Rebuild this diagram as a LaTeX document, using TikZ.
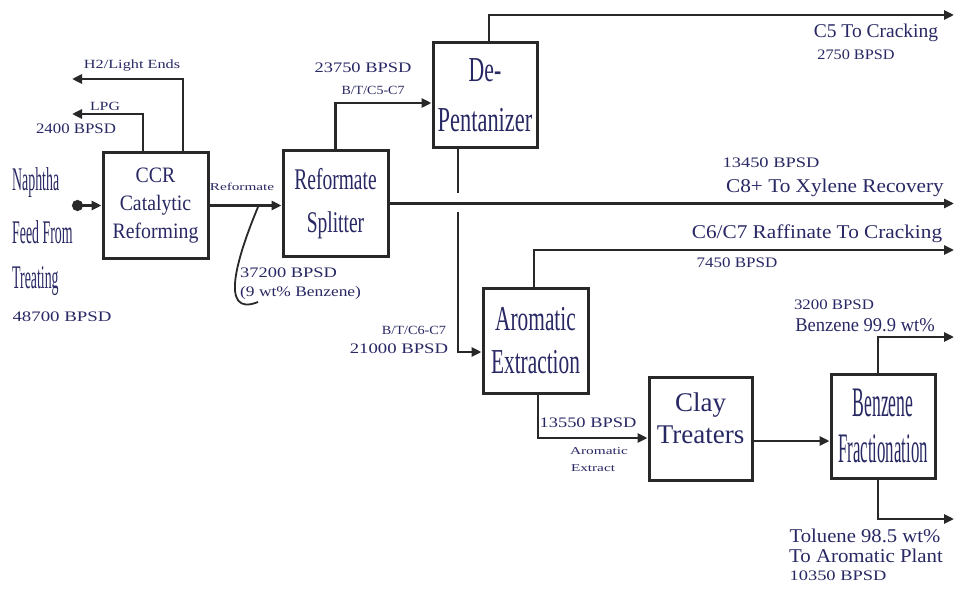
\documentclass[tikz,border=0pt]{standalone}
\usepackage{fontspec}
\setmainfont{Liberation Serif}
\usetikzlibrary{arrows.meta}
\definecolor{ink}{RGB}{40,40,100}
\definecolor{wire}{RGB}{40,40,40}
\newcommand{\sq}[2]{\scalebox{#1}[1]{#2}}
\newcommand{\fs}[2]{\fontsize{#1}{#2}\selectfont}
\begin{document}
\begin{tikzpicture}[x=1pt,y=-1pt,
  box/.style={draw=wire, line width=3pt, fill=white, inner sep=0pt, text=ink, align=center},
  flow/.style={draw=wire, line width=2.6pt, -{Triangle[length=10pt,width=9pt]}},
  pipe/.style={draw=wire, line width=2.6pt},
  lab/.style={text=ink, inner sep=0pt},
  big/.style={lab, font=\fs{19.5}{22}},
  mid/.style={lab, font=\fs{14.5}{16}},
  small/.style={lab, font=\fs{10.5}{12}},
  smallb/.style={lab, font=\fs{12.5}{14}},
  feedtxt/.style={lab, font=\fs{33}{36}, anchor=base west},
]
\useasboundingbox[fill=white] (0,0) rectangle (956,591);

% boxes
\node[box, minimum width=105pt, minimum height=105pt, font=\fs{22}{28}] (ccr) at (155.5,205.5)
  {\sq{0.9}{CCR}\\\sq{0.9}{Catalytic}\\\sq{0.9}{Reforming}};
\node[box, minimum width=105pt, minimum height=105pt, font=\fs{30}{43}] (rs) at (335.5,203.5)
  {\sq{0.65}{Reformate}\\\sq{0.65}{Splitter}};
\node[box, minimum width=104pt, minimum height=105pt, font=\fs{35}{50}] (dp) at (485,95.5)
  {\sq{0.62}{De-}\\\sq{0.64}{Pentanizer}};
\node[box, minimum width=105pt, minimum height=105pt, font=\fs{35}{43}] (ae) at (535.5,340.5)
  {\sq{0.61}{Aromatic}\\\sq{0.61}{Extraction}};
\node[box, minimum width=103pt, minimum height=103pt, font=\fs{27}{32}] (ct) at (700.5,428.5)
  {\raisebox{7pt}[\height][\depth]{\begin{tabular}{@{}c@{}}Clay\\Treaters\end{tabular}}};
\node[box, minimum width=104pt, minimum height=104pt, font=\fs{42}{46}] (bf) at (883,426)
  {\sq{0.42}{Benzene}\\\sq{0.4}{Fractionation}};

% free ends
\coordinate (feed) at (72,205.5);
\coordinate (lpg) at (72,114);
\coordinate (h2) at (72,79);
\coordinate (c5) at (954,15);
\coordinate (xyl) at (954,203.5);
\coordinate (gapA) at (458,193);
\coordinate (gapB) at (458,212);
\coordinate (raf) at (954,250);
\coordinate (bz) at (954,337);
\coordinate (tol) at (954,519);
\coordinate (hookA) at (258,207);
\coordinate (hookB) at (258,302);

% connectors
\draw[flow, {Circle[length=11pt]}-{Triangle[length=10pt,width=9pt]}] (feed) -- (ccr.west);
\draw[flow] ([xshift=-12.5pt]ccr.north) |- (lpg);
\draw[flow] ([xshift=27.5pt]ccr.north) |- (h2);
\draw[flow] (ccr.east) -- (rs.west |- ccr.east);
\draw[draw=wire, line width=1.8pt] (hookA) .. controls (238,255) and (218,318) .. (hookB);
\draw[flow] (rs.north) |- ([yshift=-7.5pt]dp.west);
\draw[flow] ([xshift=4pt]dp.north) |- (c5);
\draw[flow] (rs.east) -- (xyl);
\draw[pipe] ([xshift=-27pt]dp.south) -- (gapA);
\draw[flow] (gapB) |- ([yshift=-11.5pt]ae.west);
\draw[flow] ([xshift=-1.5pt]ae.north) |- (raf);
\draw[flow] ([xshift=2.5pt]ae.south) |- ([yshift=-9.5pt]ct.west);
\draw[flow] ([yshift=-12.5pt]ct.east) -- ([yshift=-12.5pt]ct.east -| bf.west);
\draw[flow] ([xshift=-5pt]bf.north) |- (bz);
\draw[flow] ([xshift=-5pt]bf.south) |- (tol);

% feed text
\node[feedtxt] (t1) at (12,190) {\sq{0.42}{Naphtha}};
\node[feedtxt] (t2) at (12,243) {\sq{0.42}{Feed From}};
\node[feedtxt] (t3) at (12,288) {\sq{0.42}{Treating}};
\node[mid] (t4) at (62,317) {\sq{1.3}{48700 BPSD}};

% labels
\node[smallb] (l1) at (132,66) {\sq{1.3}{H2/Light Ends}};
\node[smallb] (l2) at (105,106) {\sq{1.27}{LPG}};
\node[mid] (l3) at (76,129) {\sq{1.16}{2400 BPSD}};
\node[small] (l4) at (242,187) {\sq{1.45}{Reformate}};
\node[mid, anchor=west] (l5) at (240,273) {\sq{1.27}{37200 BPSD}};
\node[mid, anchor=west] (l6) at (240,293) {\sq{1.2}{(9 wt\% Benzene)}};
\node[mid] (l7) at (363,68) {\sq{1.27}{23750 BPSD}};
\node[smallb] (l8) at (373,90) {\sq{1.12}{B/T/C5-C7}};
\node[big] (l9) at (876,33) {C5 To Cracking};
\node[mid] (l10) at (856,55) {\sq{1.12}{2750 BPSD}};
\node[mid] (l11) at (771,163) {\sq{1.27}{13450 BPSD}};
\node[big] (l12) at (835,188) {\sq{1.09}{C8+ To Xylene Recovery}};
\node[big] (l13) at (817,234) {\sq{1.09}{C6/C7 Raffinate To Cracking}};
\node[mid] (l14) at (737,263) {\sq{1.17}{7450 BPSD}};
\node[smallb] (l15) at (414,330) {\sq{1.14}{B/T/C6-C7}};
\node[mid] (l16) at (399,349) {\sq{1.29}{21000 BPSD}};
\node[mid] (l17) at (588,423) {\sq{1.27}{13550 BPSD}};
\node[small] (l18) at (599,451) {\sq{1.46}{Aromatic}};
\node[small] (l19) at (593,468) {\sq{1.45}{Extract}};
\node[mid] (l20) at (834,305) {\sq{1.16}{3200 BPSD}};
\node[big] (l21) at (865,325) {\sq{0.95}{Benzene 99.9 wt\%}};
\node[big] (l22) at (865,536) {\sq{1.06}{Toluene 98.5 wt\%}};
\node[big] (l23) at (866,556) {\sq{1.07}{To Aromatic Plant}};
\node[mid] (l24) at (838,576) {\sq{1.27}{10350 BPSD}};
\end{tikzpicture}
\end{document}
